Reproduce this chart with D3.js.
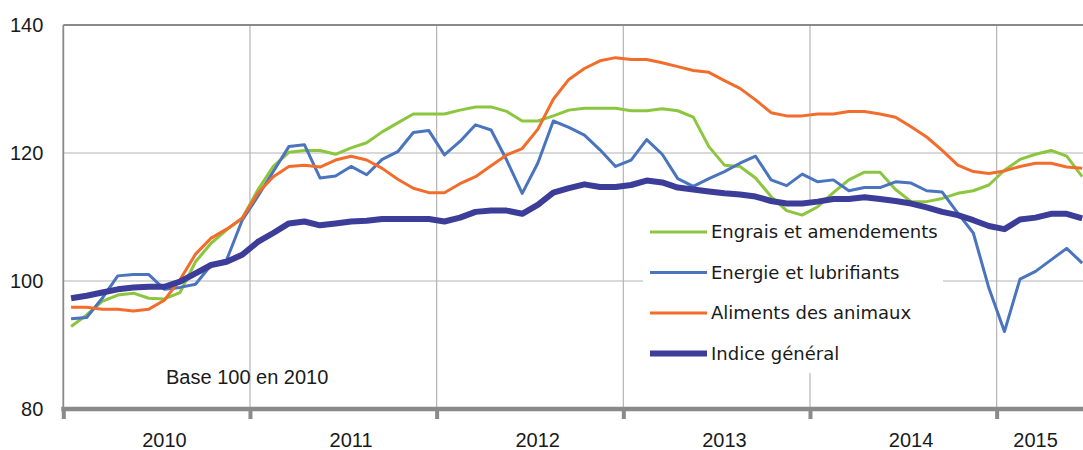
<!DOCTYPE html>
<html>
<head>
<meta charset="utf-8">
<script src="https://cdn.jsdelivr.net/npm/d3@7"></script>
<style>
  body { margin: 0; background: #fff; }
  svg { display: block; }
  .axis text { font-family: "Liberation Sans", Arial, sans-serif; font-size: 20px; fill: #1a1a1a; }
  .legend text { font-family: "DejaVu Sans", Verdana, sans-serif; font-size: 18px; fill: #1a1a1a; }
</style>
</head>
<body>
<script>
// monthly values, Jan 2010 .. Jun 2015
var engrais = [92.9, 94.7, 96.8, 97.8, 98.1, 97.3, 97.2, 98.2, 103.0, 105.9, 108.0, 109.8,
  114.2, 117.9, 120.1, 120.4, 120.4, 119.8, 120.8, 121.6, 123.3, 124.7, 126.1, 126.1,
  126.1, 126.7, 127.2, 127.2, 126.5, 125.0, 125.0, 125.8, 126.7, 127.0, 127.0, 127.0,
  126.6, 126.6, 126.9, 126.6, 125.6, 121.0, 118.1, 117.9, 116.1, 113.2, 111.0, 110.3,
  111.6, 113.8, 115.8, 117.0, 117.0, 114.3, 112.4, 112.4, 112.9, 113.7, 114.1, 115.0,
  117.3, 119.0, 119.8, 120.4, 119.5, 116.3];
var energie = [94.1, 94.3, 97.3, 100.8, 101.0, 101.0, 98.7, 99.0, 99.5, 102.5, 103.3, 109.5,
  113.2, 117.1, 121.0, 121.3, 116.1, 116.4, 117.9, 116.6, 119.0, 120.2, 123.2, 123.5,
  119.7, 121.8, 124.4, 123.6, 118.9, 113.7, 118.4, 125.0, 124.0, 122.8, 120.5, 117.9,
  118.9, 122.1, 119.8, 116.0, 114.8, 116.0, 117.1, 118.4, 119.5, 115.8, 114.9, 116.7,
  115.5, 115.8, 114.1, 114.6, 114.6, 115.5, 115.3, 114.1, 113.9, 110.6, 107.5, 98.9,
  92.1, 100.3, 101.5, 103.3, 105.1, 102.8];
var aliments = [95.9, 95.9, 95.6, 95.6, 95.3, 95.6, 97.0, 100.2, 104.2, 106.7, 108.1, 109.8,
  113.7, 116.3, 117.9, 118.1, 117.8, 118.9, 119.5, 118.9, 117.6, 115.9, 114.5, 113.8,
  113.8, 115.2, 116.3, 118.0, 119.7, 120.7, 123.7, 128.4, 131.5, 133.2, 134.4, 134.9,
  134.6, 134.6, 134.1, 133.5, 132.9, 132.6, 131.3, 130.1, 128.3, 126.3, 125.8, 125.8,
  126.1, 126.1, 126.5, 126.5, 126.1, 125.6, 124.1, 122.5, 120.4, 118.1, 117.1, 116.8,
  117.2, 117.9, 118.4, 118.4, 117.8, 117.6];
var indice = [97.3, 97.7, 98.2, 98.7, 99.0, 99.1, 99.1, 99.9, 101.2, 102.5, 103.0, 104.1,
  106.1, 107.5, 109.0, 109.3, 108.7, 109.0, 109.3, 109.4, 109.7, 109.7, 109.7, 109.7,
  109.3, 109.9, 110.8, 111.0, 111.0, 110.5, 111.9, 113.8, 114.5, 115.1, 114.7, 114.7,
  115.0, 115.7, 115.4, 114.6, 114.3, 114.0, 113.7, 113.5, 113.2, 112.5, 112.1, 112.1,
  112.4, 112.8, 112.8, 113.1, 112.8, 112.5, 112.1, 111.5, 110.8, 110.3, 109.5, 108.6,
  108.1, 109.6, 109.9, 110.5, 110.5, 109.8];

var years = ["2010", "2011", "2012", "2013", "2014", "2015"];
var yearLabelMonth = [6.5, 18.5, 30.5, 42.5, 54.5, 62.5];
var yearStarts = [0, 12, 24, 36, 48, 60];
var yTicks = [80, 100, 120, 140];

var series = [
  {name: "Engrais et amendements", values: engrais, color: "#8cc63e", width: 3},
  {name: "Energie et lubrifiants", values: energie, color: "#4a74be", width: 3},
  {name: "Aliments des animaux", values: aliments, color: "#f26d2c", width: 3},
  {name: "Indice général", values: indice, color: "#3c3d98", width: 6}
];

var W = 1083, H = 450;
var margin = {top: 25, left: 63.3, bottom: 41};
var monthW = 15.556;

var svg = d3.select("body").append("svg")
  .attr("width", W)
  .attr("height", H);

var x = d3.scaleLinear()
  .domain([0, 72])
  .range([margin.left, margin.left + 72 * monthW]);
var y = d3.scaleLinear()
  .domain([80, 140])
  .range([H - margin.bottom, margin.top]);

svg.append("clipPath").attr("id", "plot")
  .append("rect")
  .attr("x", margin.left).attr("y", 0)
  .attr("width", W - margin.left).attr("height", H);

// grid
var grid = svg.append("g").attr("clip-path", "url(#plot)");
grid.selectAll(".hgrid")
  .data(yTicks.filter(function(d) { return d > 80 && d < 140; }))
  .enter().append("line")
  .attr("x1", x(0)).attr("x2", W)
  .attr("y1", function(d) { return y(d); })
  .attr("y2", function(d) { return y(d); })
  .attr("stroke", "#b4b4b4").attr("stroke-width", 1.2);
grid.selectAll(".vgrid")
  .data(yearStarts.slice(1))
  .enter().append("line")
  .attr("x1", function(d) { return x(d); })
  .attr("x2", function(d) { return x(d); })
  .attr("y1", y(140)).attr("y2", y(80))
  .attr("stroke", "#b4b4b4").attr("stroke-width", 1.2);

// top border and left axis line
svg.append("line")
  .attr("x1", x(0)).attr("x2", W)
  .attr("y1", y(140)).attr("y2", y(140))
  .attr("stroke", "#8a8a8a").attr("stroke-width", 1.8);
svg.append("line")
  .attr("x1", x(0)).attr("x2", x(0))
  .attr("y1", y(140)).attr("y2", y(80))
  .attr("stroke", "#8a8a8a").attr("stroke-width", 1.8);

// legend background hides the grid behind it
svg.append("rect")
  .attr("x", 643).attr("y", 205)
  .attr("width", 300).attr("height", 168)
  .attr("fill", "#fff");

// lines
var line = function(vals) {
  return d3.line()
    .x(function(d, i) { return x(i + 0.5); })
    .y(function(d) { return y(d); })(vals);
};
svg.append("g").attr("clip-path", "url(#plot)")
  .selectAll("path")
  .data(series)
  .enter().append("path")
  .attr("d", function(d) { return line(d.values); })
  .attr("fill", "none")
  .attr("stroke", function(d) { return d.color; })
  .attr("stroke-width", function(d) { return d.width; })
  .attr("stroke-linejoin", "round");

// y axis labels
var yAxis = d3.axisLeft(y).tickValues(yTicks).tickSize(0).tickPadding(20);
svg.append("g")
  .attr("class", "axis")
  .attr("transform", "translate(" + x(0) + ",0)")
  .call(yAxis)
  .call(function(g) { g.select(".domain").remove(); });

// x axis: thick baseline with year ticks
var xAxis = d3.axisBottom(x).tickValues(yearStarts).tickSize(10).tickFormat("");
var gx = svg.append("g")
  .attr("class", "axis")
  .attr("transform", "translate(0," + y(80) + ")")
  .call(xAxis);
gx.select(".domain").remove();
gx.selectAll(".tick line").attr("stroke", "#8a8a8a").attr("stroke-width", 4);
gx.append("line")
  .attr("x1", x(0) - 2).attr("x2", W)
  .attr("y1", 0).attr("y2", 0)
  .attr("stroke", "#8a8a8a").attr("stroke-width", 4.5);

svg.append("g").attr("class", "axis")
  .selectAll("text")
  .data(years)
  .enter().append("text")
  .attr("x", function(d, i) { return x(yearLabelMonth[i]); })
  .attr("y", 447)
  .attr("text-anchor", "middle")
  .text(function(d) { return d; });

svg.append("g").attr("class", "axis")
  .append("text")
  .attr("x", 166).attr("y", 384)
  .text("Base 100 en 2010");

// legend
var legend = svg.append("g").attr("class", "legend")
  .selectAll("g")
  .data(series)
  .enter().append("g")
  .attr("transform", function(d, i) { return "translate(650," + (232 + i * 40.5) + ")"; });
legend.append("line")
  .attr("x1", 0).attr("x2", 57)
  .attr("stroke", function(d) { return d.color; })
  .attr("stroke-width", function(d) { return d.width; });
legend.append("text")
  .attr("x", 61).attr("dy", "0.36em")
  .text(function(d) { return d.name; });
</script>
</body>
</html>
